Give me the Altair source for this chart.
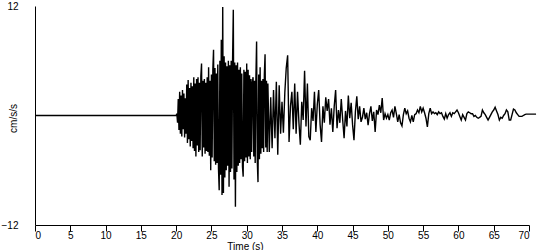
import altair as alt
import pandas as pd

# quiet record before the first arrival
pre_t = [0.0]
pre_a = [0.0]

# strong-motion part, samples every 0.1 s from 20.0 s
seg_a_start = 20.0
seg_a_dt = 0.1
seg_a = [
    0.0, 0.2, -0.8, 1.8, -1.6, 2.6, -2.0, 2.2, -2.3, 2.8,
    -1.5, 2.4, -2.4, 1.9, -2.0, 3.4, -3.0, 3.9, -2.6, 3.0,
    -3.4, 3.6, -2.8, 3.2, -3.6, 4.2, -3.9, 3.5, -4.5, 4.0,
    -3.3, 4.2, -4.0, 3.6, -3.8, 4.3, 5.7, -4.5, 3.8, -3.5,
    4.0, -4.2, 3.6, -3.9, 4.2, -4.0, 5.3, -4.4, 3.8, -6.0,
    4.5, -4.6, 5.0, 7.2, -5.0, 5.2, -5.4, 4.6, -5.2, 5.6,
    -5.8, -8.2, 6.0, -6.5, 8.3, -8.7, 11.9, -8.5, 6.5, -6.8,
    5.8, -6.0, 5.4, -5.5, 6.0, -7.8, 5.5, -6.2, 6.0, -5.8,
    6.2, 11.6, -7.0, 5.8, -10.0, 5.5, -6.2, 5.8, -5.5, 5.0,
    -5.2, 5.3, -4.8, 4.6, -5.6, -6.7, 5.0, -5.0, 4.8, -4.6,
    5.7, -5.2, 5.0, -4.5, 4.4, -4.8, 4.0, -4.0, 3.6, 4.2,
    -4.5, 3.8, -5.2, 4.0, 8.1, -5.0, -7.3, 4.5, -4.8, 5.3,
    -4.2, 3.8, -3.6, 4.0, -4.0, 4.5, 6.7, -3.5, 3.8, -4.0,
]

# coda, samples every 0.2 s from 33.0 s
seg_b_start = 33.0
seg_b_dt = 0.2
seg_b = [
    3.5, -4.0, 2.0, -3.6, 2.8, -2.5, 3.7, -4.3, 3.3, -2.0,
    1.5, -1.9, 2.5, 5.2, 6.6, -2.9, 1.0, 2.6, -1.5, 3.5,
    -2.0, 2.6, -0.8, -3.2, 1.5, -0.5, 4.9, -1.2, 3.5, -2.3,
    -2.7, 0.8, -0.6, 2.6, -1.8, 1.2, 2.8, -1.0, -2.9, 1.0,
    -0.8, 2.0, 0.5, 1.8, -1.0, 0.8, -1.8, 1.0, 2.8, -1.4,
    0.6, -0.8, 1.8, -0.5, -2.5, 0.5, -1.2, 2.2, -0.3, 1.4,
    -1.0, -2.7, 0.4, 2.1, -0.4, 1.0, -0.7, -0.2, 0.8, -0.4,
    0.3, -1.05, 0.2, 1.0, -0.6, 0.4, -1.8, 0.6, 0.1, 1.15,
    0.3, 1.9, -0.5, 0.2, -0.3, 0.1, -0.5, 0.3, 0.6, -0.2,
    1.0, 0.2, -0.7, 0.1, -0.8, -1.15, 0.1, 0.8, 0.2, 0.5,
    -0.3, -0.7, 0.0, -0.7, 0.1, 0.2, 0.6, 0.3, 1.0, 0.4,
    0.8, 0.3, -0.3, -1.25, 0.2, 0.8, 0.2, 0.4, 0.2, 0.3,
    0.1, 0.4, 0.2, 0.3, -0.1, -0.4, 0.2, -0.3, 0.1, 0.3,
    -0.1, 0.3, 0.2, 0.4, 0.6, 0.3, -0.1, -0.5, 0.1, -0.2,
    -0.5, 0.2, 0.4, 0.3, 0.2, 0.2, -0.1, 0.0, -0.2, -0.3,
    -0.2, -0.1, 0.6, 0.3, 0.1, -0.2, -0.5, -0.2, 0.1, 0.4,
    0.6, 0.9, 0.5, 0.1, -0.5, -0.2, -0.3, 0.0, 0.2, 0.6,
    0.4, -0.5, -0.5, 0.1, 0.7, 0.6, 0.3, 0.1, -0.1, -0.1,
    -0.1, 0.0, 0.1, 0.15, 0.15,
]

tail_t = [71.0]
tail_a = [0.15]

x_ticks = list(range(0, 75, 5))
y_ticks = [-12, 12]

times = list(pre_t)
accel = list(pre_a)
for i, v in enumerate(seg_a):
    times.append(round(seg_a_start + i * seg_a_dt, 3))
    accel.append(v)
for i, v in enumerate(seg_b):
    times.append(round(seg_b_start + i * seg_b_dt, 3))
    accel.append(v)
times += tail_t
accel += tail_a

df = pd.DataFrame({"t": times, "a": accel, "order": range(len(times))})

FONT = "Liberation Sans"

chart = alt.Chart(df).mark_line(color="black", strokeWidth=1.4, clip=False).encode(
    x=alt.X(
        "t:Q",
        scale=alt.Scale(domain=[0, 70], nice=False, zero=False),
        axis=alt.Axis(
            values=x_ticks,
            title="Time (s)",
            grid=False,
            tickSize=6,
            labelPadding=-1,
            titleX=210,
            titleY=16,
            titleBaseline="top",
            titleAlign="center",
        ),
    ),
    y=alt.Y(
        "a:Q",
        scale=alt.Scale(domain=[-12, 12], nice=False),
        axis=alt.Axis(
            values=y_ticks,
            title="cm/s/s",
            grid=False,
            ticks=False,
            labelPadding=17,
            titleX=-22,
            titleY=112,
            titleAlign="center",
            titleBaseline="middle",
        ),
    ),
    order="order:Q",
).properties(
    width=494,
    height=219,
    autosize=alt.AutoSizeParams(type="none"),
    padding={"left": 35, "top": 6, "right": 21, "bottom": 25},
    background="white",
).configure_view(stroke=None).configure_axis(
    labelFont=FONT,
    titleFont=FONT,
    labelFontSize=10,
    titleFontSize=10,
    titleFontWeight="normal",
    labelColor="black",
    titleColor="black",
    domainColor="black",
    tickColor="black",
    domainWidth=1,
    tickWidth=1,
)

chart.save("out.html", embed_options={"renderer": "svg", "actions": False})
